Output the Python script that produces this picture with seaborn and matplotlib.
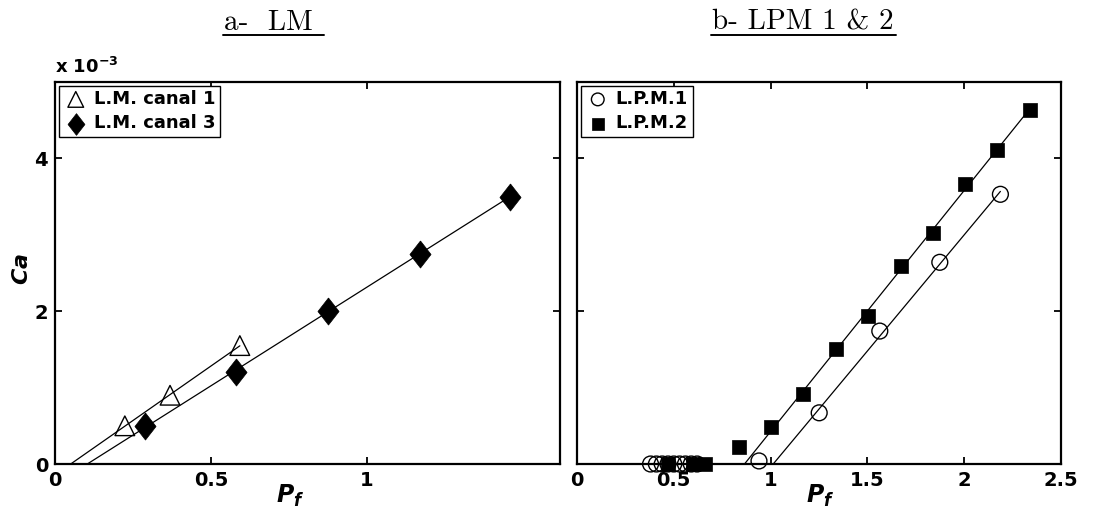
import numpy as np
import pandas as pd
import matplotlib
matplotlib.use("Agg")
import matplotlib.pyplot as plt
import seaborn as sns
from matplotlib.lines import Line2D

# ---- data (Ca in units of 1e-3) ----
lm1_pf = [0.224, 0.369, 0.593]
lm1_ca = [0.50, 0.90, 1.55]
lm3_pf = [0.290, 0.580, 0.876, 1.170, 1.458]
lm3_ca = [0.50, 1.20, 2.00, 2.75, 3.50]

lpm1_pf = [0.38, 0.41, 0.44, 0.47, 0.50, 0.53, 0.56, 0.59, 0.62, 0.94, 1.251, 1.564, 1.874, 2.187]
lpm1_ca = [0, 0, 0, 0, 0, 0, 0, 0, 0, 0.04, 0.67, 1.74, 2.64, 3.53]
lpm2_pf = [0.47, 0.60, 0.66, 0.836, 1.002, 1.168, 1.337, 1.504, 1.671, 1.840, 2.003, 2.172, 2.339]
lpm2_ca = [0, 0, 0, 0.22, 0.48, 0.91, 1.51, 1.94, 2.59, 3.02, 3.67, 4.11, 4.64]

sns.set_style("ticks")
plt.rcParams['font.family'] = ['DejaVu Sans']
plt.rcParams['font.weight'] = 'bold'
plt.rcParams['text.color'] = 'black'
plt.rcParams['axes.labelcolor'] = 'black'
plt.rcParams['xtick.color'] = 'black'
plt.rcParams['ytick.color'] = 'black'
plt.rcParams['mathtext.fontset'] = 'custom'
plt.rcParams['mathtext.rm'] = 'DejaVu Sans:bold'
plt.rcParams['mathtext.it'] = 'DejaVu Sans:italic:bold'
plt.rcParams['mathtext.default'] = 'rm'

# wider matlab-style diamond
diamond = [(0, 1), (0.78, 0), (0, -1), (-0.78, 0), (0, 1)]


def fit_line(pf, ca, ax, min_ca):
    # least squares line through the flowing points, drawn from Ca=0 up to last point
    pf = np.asarray(pf)
    ca = np.asarray(ca)
    keep = ca >= min_ca
    a, b = np.polyfit(pf[keep], ca[keep], 1)
    x0 = -b / a
    xs = np.array([x0, pf[keep].max()])
    line_df = pd.DataFrame({'Pf': xs, 'Ca': a * xs + b})
    sns.lineplot(data=line_df, x='Pf', y='Ca', ax=ax, color='black', lw=0.9, legend=False)


def style_axes(ax):
    for s in ax.spines.values():
        s.set_visible(True)
        s.set_linewidth(1.6)
        s.set_color('black')
    ax.tick_params(direction='in', length=5, width=1.3, top=True, right=True,
                   labelsize=14, pad=5, colors='black')
    for lab in ax.get_xticklabels() + ax.get_yticklabels():
        lab.set_fontweight('bold')


def add_legend(ax):
    leg = ax.legend(loc='upper left', borderaxespad=0.2, handletextpad=0.3, handlelength=1.4,
                    fancybox=False, edgecolor='black', framealpha=1, borderpad=0.25,
                    labelspacing=0.35, markerscale=0.8,
                    prop={'weight': 'bold', 'size': 13})
    leg.get_frame().set_linewidth(1.0)
    for t in leg.get_texts():
        t.set_color('black')
    return leg


fig = plt.figure(figsize=(11.03, 5.30), dpi=100)
W, H = 1103, 530
axL = fig.add_axes([55 / W, (H - 464) / H, (560 - 55) / W, (464 - 82) / H])
axR = fig.add_axes([577 / W, (H - 464) / H, (1061 - 577) / W, (464 - 82) / H])

# ---- left panel ----
fit_line(lm1_pf, lm1_ca, axL, 0.3)
fit_line(lm3_pf, lm3_ca, axL, 0.3)
sns.scatterplot(x=lm1_pf, y=lm1_ca, ax=axL, marker='^', s=200, facecolor='none',
                edgecolor='black', linewidth=1.0, label='L.M. canal 1', clip_on=False, zorder=3)
sns.scatterplot(x=lm3_pf, y=lm3_ca, ax=axL, marker=diamond, s=380, color='black',
                edgecolor='black', linewidth=0.5, label='L.M. canal 3', clip_on=False, zorder=3)
axL.set_xlim(0, 1.62)
axL.set_ylim(0, 5)
axL.set_xticks([0, 0.5, 1])
axL.set_xticklabels(['0', '0.5', '1'])
axL.set_yticks([0, 2, 4])
axL.set_yticklabels(['0', '2', '4'])
axL.set_xlabel(r'$\mathit{P_f}$', fontsize=17)
axL.xaxis.set_label_coords(0.465, -0.05)
axL.set_ylabel(r'$\mathit{Ca}$', fontsize=16)
axL.yaxis.set_label_coords(-0.046, 0.51)
style_axes(axL)
add_legend(axL)
axL.text(0.0, 1.012, r'x 10$^{-3}$', transform=axL.transAxes, fontsize=13,
         fontweight='bold', ha='left', va='bottom', color='black')

# ---- right panel ----
fit_line(lpm1_pf, lpm1_ca, axR, 0.5)
fit_line(lpm2_pf, lpm2_ca, axR, 0.4)
sns.scatterplot(x=lpm1_pf, y=lpm1_ca, ax=axR, marker='o', s=130, facecolor='none',
                edgecolor='black', linewidth=1.0, label='L.P.M.1', clip_on=False, zorder=3)
sns.scatterplot(x=lpm2_pf, y=lpm2_ca, ax=axR, marker='s', s=110, color='black',
                edgecolor='black', linewidth=0.5, label='L.P.M.2', clip_on=False, zorder=3)
axR.set_xlim(0, 2.5)
axR.set_ylim(0, 5)
axR.set_xticks([0, 0.5, 1, 1.5, 2, 2.5])
axR.set_xticklabels(['0', '0.5', '1', '1.5', '2', '2.5'])
axR.set_yticks([0, 2, 4])
axR.set_yticklabels([])
axR.set_xlabel(r'$\mathit{P_f}$', fontsize=17)
axR.xaxis.set_label_coords(0.502, -0.05)
axR.set_ylabel('')
style_axes(axR)
add_legend(axR)

# ---- underlined panel titles ----
titles = [('a-  LM', 268 / W, 12), ('b- LPM 1 & 2', 803 / W, 2)]
renderer = fig.canvas.get_renderer()
for txt, xc, extra in titles:
    t = fig.text(xc, 1 - 30 / H, txt, family='cmr10', fontsize=21, ha='center',
                 va='baseline', weight='normal', color='black')
    bb = t.get_window_extent(renderer).transformed(fig.transFigure.inverted())
    yl = 1 - 34.5 / H
    fig.add_artist(Line2D([bb.x0 - 1 / W, bb.x1 + extra / W], [yl, yl], color='black', lw=1.4,
                          transform=fig.transFigure))

fig.savefig('out.png', dpi=100)
